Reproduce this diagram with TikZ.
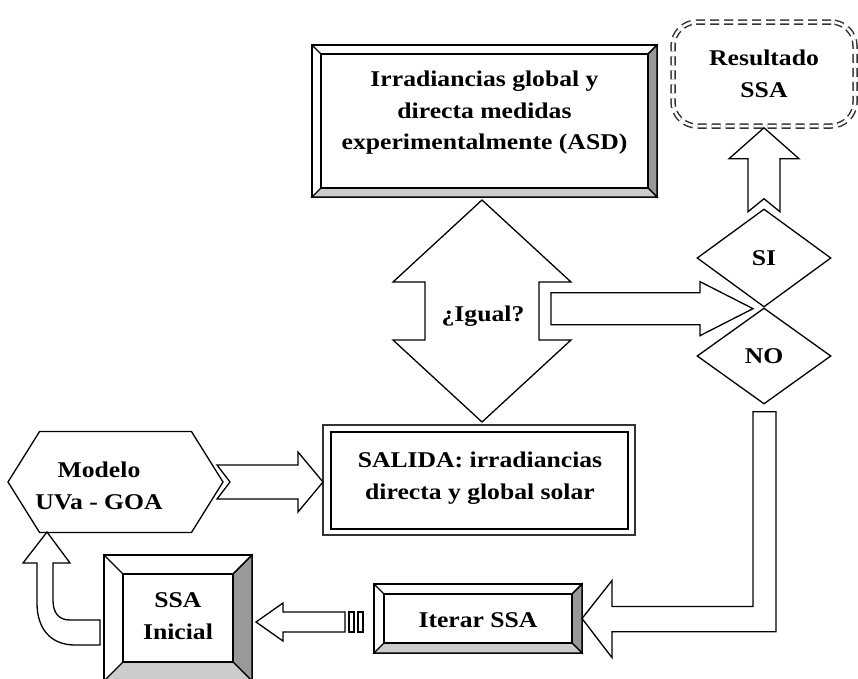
\documentclass[tikz,border=0pt]{standalone}
\usepackage{fontspec}
\setmainfont[FakeStretch=1.14]{Liberation Serif}
\usetikzlibrary{calc,positioning,shapes.geometric,shapes.symbols}

\definecolor{bevdark}{gray}{0.6}
\definecolor{bevlight}{gray}{0.8}

\tikzset{
  txt/.style={font=\fontsize{22.5}{31.5}\selectfont\bfseries, align=center},
  ln/.style={line width=1.3pt, line join=miter},
  box/.style={ln, draw, fill=white, rectangle, inner sep=0pt, outer sep=0pt},
  blk/.style={ln, draw, fill=white},
}

% bevelled frame round a node: #1 node name, #2 bevel depth
\newcommand\bevel[2]{%
  \filldraw[ln, fill=bevdark] (#1.north east) -- ($(#1.north east)+(-#2,#2)$)
      -- ($(#1.south east)+(-#2,-#2)$) -- (#1.south east) -- cycle;
  \filldraw[ln, fill=bevlight] (#1.south west) -- ($(#1.south west)+(#2,-#2)$)
      -- ($(#1.south east)+(-#2,-#2)$) -- (#1.south east) -- cycle;
  \draw[ln] ($(#1.north west)+(#2,#2)$) rectangle ($(#1.south east)+(-#2,-#2)$);
  \draw[ln] (#1.north west) -- ++(#2,#2);
  \draw[ln] (#1.north east) -- ++(-#2,#2);
}

\begin{document}
\begin{tikzpicture}[x=1pt, y=-1pt]
    \useasboundingbox (0,0) rectangle (858,678);

    % Boxes
    \node[box, minimum width=345, minimum height=152] (top) at (484.5,121) {};
    \bevel{top}{9}
    \node[txt] (toptxt) at (484.5,113) {Irradiancias global y\\directa medidas\\experimentalmente (ASD)};

    \node[box, draw=black!80, line width=2pt, minimum width=312, minimum height=110] (sal) at (479,480) {};
    \draw[ln] ($(sal.north west)+(8,7)$) rectangle ($(sal.south east)+(-7,-6)$);
    \node[txt] (saltxt) at (480,478) {SALIDA: irradiancias\\directa y global solar};

    \node[ln, draw, fill=white, signal, signal to=west and east, signal pointer angle=116,
          minimum width=215, minimum height=101, inner sep=0pt] (modelo) at (115.5,482) {};
    \node[txt] (modelotxt) at (99,486) {Modelo\\UVa - GOA};

    \node[box, minimum width=148, minimum height=126] (ini) at (178,618) {};
    \bevel{ini}{19}
    \node[txt] (initxt) at (178,616) {SSA\\Inicial};

    \node[box, minimum width=208, minimum height=69] (itr) at (478,618.5) {};
    \bevel{itr}{10}
    \node[txt] (itrtxt) at (478,620) {Iterar SSA};

    \node[txt, draw=black!80, line width=1.5pt, double, double distance=2.5pt,
          dash pattern=on 9pt off 5pt, rounded corners=24pt, fill=white,
          minimum width=182, minimum height=104] (res) at (764,74) {Resultado\\SSA};

    % Decisions
    \node[txt, ln, draw, diamond, minimum width=134, minimum height=98, inner sep=0pt] (si) at (764,258) {SI};
    \node[txt, ln, draw, diamond, minimum width=134, minimum height=96, inner sep=0pt] (no) at (764,356) {NO};

    % Block arrows
    \draw[blk] ($(top.south)+(-2.5,3)$) -- ++(89,82) -- ++(-32,0) -- ++(0,58) -- ++(32,0)
        -- ++(-89,82) -- ++(-89,-82) -- ++(32,0) -- ++(0,-58) -- ++(-32,0) -- cycle;
    \node[txt] (igual) at (483,316) {¿Igual?};

    \draw[blk] ($(si.south)+(-11,1)$) -- ++(-53,-27) -- ++(0,11) -- ++(-149,0) -- ++(0,32)
        -- ++(149,0) -- ++(0,11) -- cycle;

    \draw[blk] ($(res.south)+(0,1)$) -- ++(35,31) -- ++(-19,0) -- ++(0,53) -- ++(-16,-13)
        -- ++(-16,13) -- ++(0,-53) -- ++(-19,0) -- cycle;

    \draw[blk] ($(no.south)+(-11,7)$) -- ++(23,0) -- ++(0,220) -- ++(-164,0) -- ++(0,26)
        -- (itr.east) -- ++(30,-38) -- ++(0,26) -- ++(141,0) -- cycle;

    \draw[blk] ($(sal.west)+(0,2)$) -- ++(-25,-30) -- ++(0,13) -- ++(-81,0) -- ++(13,17)
        -- ++(-13,17) -- ++(81,0) -- ++(0,13) -- cycle;

    \draw[blk] ($(ini.east)+(4,4)$) -- ++(27,-19) -- ++(0,9) -- ++(62,0) -- ++(0,20)
        -- ++(-62,0) -- ++(0,9) -- cycle;
    \foreach \x in {-25,-16} {
        \draw[ln] ($(itr.west)+(\x,-6.5)$) rectangle ++(5,20);
    }

    \draw[blk] ($(ini.west)+(-4,2)$) -- ++(-30,0)
        .. controls +(-12,0) and +(0,12) .. ++(-17,-20) -- ++(0,-37) -- ++(17,0)
        -- ++(-23,-31) -- ++(-24,31) -- ++(14,0) -- ++(0,40)
        .. controls +(0,25) and +(-25,0) .. ++(38,42) -- ++(25,0) -- cycle;
\end{tikzpicture}
\end{document}
